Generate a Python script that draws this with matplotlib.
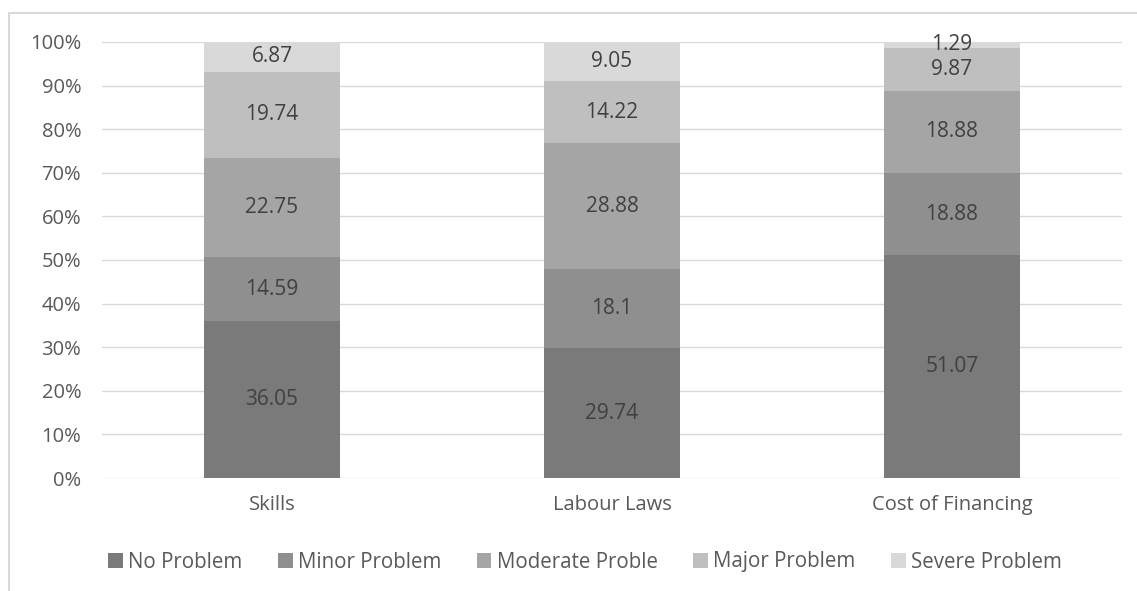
import matplotlib
matplotlib.use("Agg")
import matplotlib.pyplot as plt
from matplotlib.patches import Rectangle
import numpy as np

plt.rcParams['font.family'] = ['Open Sans', 'DejaVu Sans']

categories = ["Skills", "Labour Laws", "Cost of Financing"]
series_names = ["No Problem", "Minor Problem", "Moderate Proble", "Major Problem", "Severe Problem"]
no_problem = [36.05, 29.74, 51.07]
minor_problem = [14.59, 18.1, 18.88]
moderate_problem = [22.75, 28.88, 18.88]
major_problem = [19.74, 14.22, 9.87]
severe_problem = [6.87, 9.05, 1.29]
y_ticks = [0, 10, 20, 30, 40, 50, 60, 70, 80, 90, 100]

series = [no_problem, minor_problem, moderate_problem, major_problem, severe_problem]
colors = ["#7a7a7a", "#8f8f8f", "#a5a5a5", "#bfbfbf", "#d9d9d9"]

W, H = 1137, 591
fig = plt.figure(figsize=(W / 100, H / 100), dpi=100)
ax = fig.add_axes([102 / W, 1 - 478 / H, 1020 / W, 436 / H])

x = np.arange(len(categories))
bottom = np.zeros(len(categories))
totals = np.sum(series, axis=0)
handles = []
for name, vals, c in zip(series_names, series, colors):
    vals = np.array(vals)
    pct = vals / totals * 100
    b = ax.bar(x, pct, 0.4, bottom=bottom, color=c, label=name, zorder=2)
    handles.append(b)
    for xi, bi, pi, v in zip(x, bottom, pct, vals):
        ax.text(xi, bi + pi / 2, f"{v:g}", ha="center", va="center",
                fontsize=15, color="#404040", zorder=3)
    bottom += pct

ax.set_xlim(-0.5, 2.5)
ax.set_ylim(0, 100)
ax.set_yticks(y_ticks)
ax.set_yticklabels([f"{t}%" for t in y_ticks])
ax.set_xticks(x)
ax.set_xticklabels(categories)
ax.yaxis.grid(True, color="#d9d9d9", lw=1, zorder=0)
ax.set_axisbelow(True)
for s in ax.spines.values():
    s.set_visible(False)
ax.tick_params(axis="both", length=0, labelsize=14.5, labelcolor="#595959")
ax.tick_params(axis="y", pad=15)
ax.tick_params(axis="x", pad=12)

leg = fig.legend(handles=handles, labels=series_names, loc="center",
                 bbox_to_anchor=(585 / W, 1 - 562 / H), ncol=5, frameon=False,
                 fontsize=14.8, handlelength=0.7, handleheight=0.7,
                 handletextpad=0.25, columnspacing=1.75)
for t in leg.get_texts():
    t.set_color("#595959")

fig.patches.append(Rectangle((9 / W, -0.1), 1.2, 1.1 - 13 / H,
                             transform=fig.transFigure, fill=False,
                             edgecolor="#d9d9d9", lw=1.5, zorder=0))

fig.savefig("out.png", dpi=100, facecolor="white")
